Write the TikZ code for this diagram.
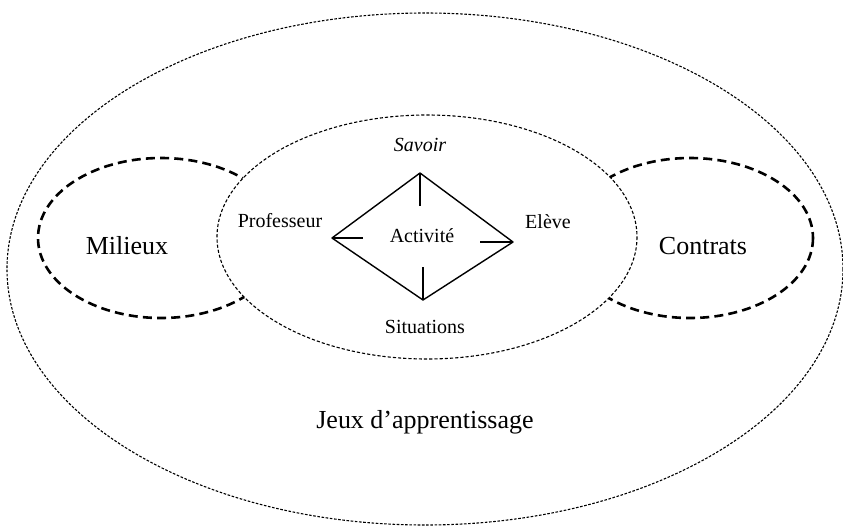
\documentclass[tikz,border=0pt]{standalone}
\usepackage{fontspec}
\setmainfont{Liberation Serif}
\usetikzlibrary{positioning}

\begin{document}
\begin{tikzpicture}[
    x=0.5pt, y=-0.5pt,
    thinring/.style={draw, line width=0.55pt, dash pattern=on 1.3pt off 0.8pt},
    midring/.style={draw, line width=0.55pt, dash pattern=on 1.6pt off 1pt},
    boldring/.style={draw, line width=1.3pt, dash pattern=on 4.5pt off 2.6pt},
    side/.style={line width=0.7pt},
    tick/.style={line width=1.3pt},
    lbl/.style={font=\fontsize{10}{12}\selectfont, inner sep=1pt},
    biglbl/.style={font=\fontsize{13}{15}\selectfont, inner sep=1pt}
]
\useasboundingbox (0,0) rectangle (843,526);

% Outer ring
\draw[thinring] (425,269) ellipse [x radius=418, y radius=256];

% Side rings
\draw[boldring] (161,238) ellipse [x radius=123, y radius=80];
\draw[boldring] (690,238) ellipse [x radius=123, y radius=80];

% Inner ring
\filldraw[midring, fill=white] (427,237) ellipse [x radius=210, y radius=122];

% Diamond
\coordinate (top) at (420,173);
\coordinate (lft) at (332,238);
\coordinate (rgt) at (513,242);
\coordinate (bot) at (423,300);
\draw[side, line join=round] (top) -- (rgt) -- (bot) -- (lft) -- cycle;

% Ticks
\draw[tick] (top) -- ++(0,33);
\draw[tick] (lft) -- ++(31,0);
\draw[tick] (rgt) -- ++(-33,0);
\draw[tick] (bot) -- ++(0,-33);

% Labels
\node[lbl] (act) at (422,236) {Activit\'e};
\node[lbl, font=\fontsize{10}{12}\selectfont\itshape] (sav) at (420,145) {Savoir};
\node[lbl] (prof) at (280,221) {Professeur};
\node[lbl] (elev) at (548,222) {El\`eve};
\node[lbl] (sit) at (425,327) {Situations};
\node[biglbl] (mil) at (127,246) {Milieux};
\node[biglbl] (con) at (703,246) {Contrats};
\node[biglbl] (jeux) at (425,422) {Jeux d'apprentissage};

\end{tikzpicture}
\end{document}
